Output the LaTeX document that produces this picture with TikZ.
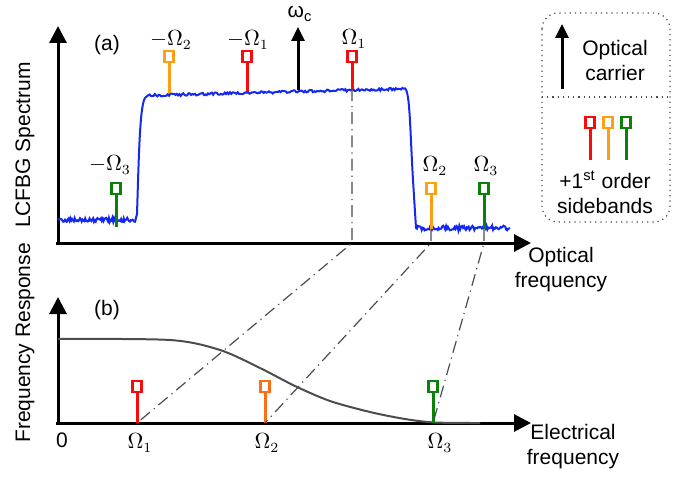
\documentclass[tikz,border=0pt]{standalone}
\usepackage{amsmath}
\usepackage{fontspec}
\setmainfont{Liberation Sans}
\usetikzlibrary{arrows.meta, positioning, calc}

\definecolor{sbred}{RGB}{250,10,10}
\definecolor{sborg}{RGB}{255,160,20}
\definecolor{sbdorg}{RGB}{255,110,20}
\definecolor{sbgrn}{RGB}{10,130,10}
\definecolor{specblue}{RGB}{20,40,240}

\begin{document}
\begin{tikzpicture}[
  x=0.5pt, y=-0.5pt,
  font=\fontsize{10.5}{12.5}\selectfont,
  axis/.style={line width=1.5pt, -{Triangle[length=8.5pt, width=8.5pt]}},
  carrier/.style={line width=1.5pt, -{Triangle[length=7pt, width=6.5pt]}},
  sb/.style={draw=#1, line width=1.25pt, fill=white, minimum width=4.4pt, minimum height=5.4pt, inner sep=0pt},
  stem/.style={draw=#1, line width=1.5pt},
  spec/.style={draw=specblue, line width=1pt},
  resp/.style={draw=black!70, line width=1pt},
  link/.style={draw=black!70, line width=0.6pt, dash pattern=on 6pt off 2.5pt on 0.6pt off 2.5pt},
  legbox/.style={draw=black!70, line width=0.6pt, dotted, rounded corners=8pt},
  lbl/.style={inner sep=1pt}
]
\useasboundingbox (0,0) rectangle (689,476);

% (a) LCFBG spectrum
\draw[axis] (58,245) -- (58,26);
\draw[axis] (56,243) -- (531,243);
\pgfmathsetseed{11}
\draw[spec] plot[domain=58:136, samples=90] (\x,{220+2.2*rand})
  -- (137,214) .. controls (139,150) and (140,100) .. (146,97)
  -- plot[domain=147:405, samples=200] (\x,{95.5-0.026*(\x-147)+1.3*rand})
  .. controls (410,92) and (410,130) .. (413,180) -- (416,228)
  -- plot[domain=417:510, samples=100] (\x,{228+2.4*rand});

\node[lbl] (tagA) at (107,45) {(a)};
\node[rotate=90] (ylabA) at (25,145) {LCFBG Spectrum};
\node[align=center, inner sep=0pt] (xlabA) at (561,270) {Optical\\frequency};

\draw[carrier] (298,90) -- (298,27);
\node[lbl] (wc) at (300,14) {ω\textsubscript{c}};

\foreach \n/\c/\x/\yt/\yb in {am3/sbgrn/116/188.5/227, am2/sborg/169/56.5/93,
    am1/sbred/247/56.5/92, ap1/sbred/352/56.5/89, ap2/sborg/431/188.5/229, ap3/sbgrn/484/188.5/229} {
  \node[sb=\c] (\n) at (\x,\yt) {};
  \draw[stem=\c] (\n.south) -- (\x,\yb) coordinate (\n e);
}
\node[lbl] (lm3) at (110,165) {$-\Omega_3$};
\node[lbl] (lm2) at (171,40) {$-\Omega_2$};
\node[lbl] (lm1) at (248,40) {$-\Omega_1$};
\node[lbl] (lp1) at (354,39) {$\Omega_1$};
\node[lbl] (lp2) at (435,166) {$\Omega_2$};
\node[lbl] (lp3) at (486,166) {$\Omega_3$};

% (b) frequency response
\draw[axis] (58,425) -- (58,297);
\draw[axis] (56,423) -- (531,423);
\draw[resp] plot[smooth] coordinates {(58,339) (170,340) (220,350) (260,368) (295,386)
  (330,401) (370,412) (405,419) (435,422.5) (480,423)};

\node[lbl] (tagB) at (107,310) {(b)};
\node[rotate=90] (ylabB) at (25,343) {Frequency Response};
\node[align=center, inner sep=0pt] (xlabB) at (573,447) {Electrical\\frequency};
\node[lbl] (zero) at (62,440) {0};

\foreach \n/\c/\x in {b1/sbred/137, b2/sbdorg/265, b3/sbgrn/433} {
  \node[sb=\c] (\n) at (\x,386.5) {};
  \draw[stem=\c] (\n.south) -- (\x,423) coordinate (\n e);
}
\node[lbl] (lb1) at (140,443) {$\Omega_1$};
\node[lbl] (lb2) at (267,443) {$\Omega_2$};
\node[lbl] (lb3) at (440,443) {$\Omega_3$};

% mapping
\draw[link] (ap1e) -- (ap1e |- 0,243) -- (b1e);
\draw[link] (ap2e) -- (ap2e |- 0,243) -- (b2e);
\draw[link] (ap3e) -- (ap3e |- 0,243) -- (b3e);

% legend
\draw[legbox] (542,13) rectangle (670,222);
\draw[black!70, line width=0.6pt, dotted] (542,97) -- (670,97);
\draw[carrier] (562,89) -- (562,24);
\node[align=center, inner sep=0pt] (legC) at (615,60) {Optical\\carrier};
\foreach \n/\c/\x in {l1/sbred/590, l2/sborg/608, l3/sbgrn/626} {
  \node[sb=\c] (\n) at (\x,122.5) {};
  \draw[stem=\c] (\n.south) -- (\x,160);
}
\node[align=center, inner sep=0pt] (legS) at (605,192) {+1\textsuperscript{st} order\\sidebands};
\end{tikzpicture}
\end{document}
